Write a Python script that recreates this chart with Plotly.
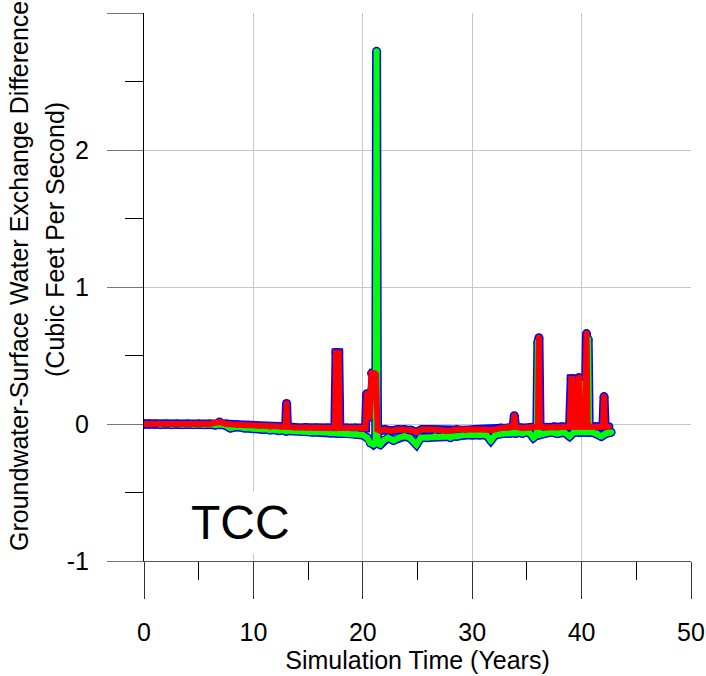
import plotly.graph_objects as go

# simulation time (years) and exchange difference (cfs)
green_t = [0.0, 0.5, 1.5, 2.5, 3.5, 4.5, 5.5, 6.5, 7.3, 7.9, 8.5, 9.2, 10.0, 10.8, 11.5, 12.3,
           13.0, 13.8, 14.6, 15.4, 16.2, 17.0, 17.8, 18.6, 19.4, 20.0, 20.4, 20.7, 21.0, 21.18,
           21.26, 21.34, 21.6, 21.9, 22.3, 22.8, 23.3, 23.8, 24.3, 24.9, 25.3, 25.9, 26.6, 27.3,
           28.0, 28.6, 29.3, 30.0, 30.7, 31.3, 31.7, 32.1, 32.8, 33.4, 34.0, 34.6, 35.2, 35.6,
           35.9, 36.0, 36.1, 36.6, 37.2, 37.8, 38.4, 38.9, 39.3, 39.8, 39.9, 40.0, 40.5, 40.6,
           40.7, 41.0, 41.4, 41.8, 42.2, 42.7]
green_v = [0.0, 0.0, -0.005, -0.005, -0.005, -0.005, -0.005, -0.01, -0.005, -0.03, -0.02, -0.03,
           -0.035, -0.04, -0.045, -0.05, -0.055, -0.05, -0.055, -0.06, -0.06, -0.065, -0.07, -0.07,
           -0.075, -0.08, -0.1, -0.14, -0.15, -0.14, 2.72, -0.14, -0.15, -0.12, -0.1, -0.12, -0.1,
           -0.09, -0.1, -0.15, -0.1, -0.1, -0.09, -0.09, -0.1, -0.09, -0.08, -0.08, -0.08, -0.08,
           -0.12, -0.08, -0.07, -0.07, -0.07, -0.07, -0.06, -0.1, -0.08, 0.6, -0.08, -0.07, -0.06,
           -0.07, -0.06, -0.09, -0.06, -0.06, 0.3, -0.06, -0.06, 0.62, -0.06, -0.06, -0.07, -0.09,
           -0.07, -0.06]

red_t = [0.0, 1.0, 2.0, 3.0, 4.0, 5.0, 6.0, 6.9, 7.5, 8.5, 9.5, 10.5, 11.5, 12.5, 12.95, 13.03,
         13.11, 13.8, 14.8, 15.8, 16.8, 17.45, 17.55, 17.68, 17.8, 17.9, 18.5, 19.3, 20.0, 20.25,
         20.35, 20.5, 20.65, 20.8, 20.95, 21.1, 21.2, 21.35, 21.6, 22.0, 22.6, 23.2, 23.8, 24.4,
         24.9, 25.4, 26.2, 27.0, 27.8, 28.6, 29.4, 30.2, 31.0, 31.8, 32.6, 33.3, 33.75, 33.85,
         33.95, 34.6, 35.3, 36.0, 36.1, 36.2, 36.8, 37.5, 38.2, 38.9, 39.05, 39.15, 39.3, 39.45,
         39.6, 39.75, 39.85, 40.3, 40.45, 40.55, 40.9, 41.3, 41.7, 41.95, 42.05, 42.15, 42.5]
red_v = [0.0, 0.0, 0.0, 0.0, 0.0, 0.0, 0.0, 0.015, 0.0, -0.005, -0.01, -0.015, -0.02, -0.02,
         -0.02, 0.15, -0.02, -0.025, -0.025, -0.03, -0.03, -0.03, 0.52, 0.52, 0.52, -0.03,
         -0.03, -0.03, -0.035, -0.03, 0.22, 0.2, 0.05, 0.37, 0.37, 0.37, 0.36, -0.04, -0.05,
         -0.04, -0.05, -0.04, -0.04, -0.045, -0.06, -0.04, -0.04, -0.045, -0.05, -0.04, -0.045,
         -0.04, -0.04, -0.045, -0.03, -0.03, -0.02, 0.06, -0.02, -0.03, -0.025, -0.02, 0.63,
         -0.02, -0.025, -0.02, -0.02, -0.02, 0.33, 0.33, -0.02, -0.02, -0.02, 0.34, -0.02, -0.02,
         0.66, -0.02, -0.02, -0.02, -0.02, -0.02, 0.2, -0.02, -0.02]

x_ticks = [0, 10, 20, 30, 40, 50]
y_ticks = [-1, 0, 1, 2, 3]
y_labels = ["-1", "0", "1", "2", "3"]

FONT = "Liberation Sans, Arial, sans-serif"
W, H = 706, 676
ML, MR, MT, MB = 144, 15, 13, 115


def line_trace(x, y, color, width):
    # markers at the vertices give the rounded ends of the original pen strokes
    return go.Scatter(x=x, y=y, mode="lines+markers", line=dict(color=color, width=width),
                      marker=dict(color=color, size=width, line=dict(width=0)), hoverinfo="skip")


def px_to_paper(px, py):
    return (px - ML) / (W - ML - MR), (H - MB - py) / (H - MT - MB)


fig = go.Figure()
# blue outlines first, then the coloured lines on top
fig.add_trace(line_trace(green_t, green_v, "#0000ff", 9))
fig.add_trace(line_trace(red_t, red_v, "#0000ff", 9))
fig.add_trace(line_trace(green_t, green_v, "#00ff00", 6))
fig.add_trace(line_trace(red_t, red_v, "#ff0000", 6))

t1x, t1y = px_to_paper(19, 276)
t2x, t2y = px_to_paper(55, 240)

fig.update_layout(
    width=W, height=H,
    margin=dict(l=ML, r=MR, t=MT, b=MB),
    paper_bgcolor="white", plot_bgcolor="white",
    showlegend=False,
    font=dict(family=FONT, size=25, color="black"),
    annotations=[
        dict(x=8.8, y=-0.72, xref="x", yref="y", text="TCC", showarrow=False,
             font=dict(size=48, family=FONT, color="black"), bgcolor="white", borderpad=4),
        dict(x=t1x, y=t1y, xref="paper", yref="paper", text="Groundwater-Surface Water Exchange Difference",
             showarrow=False, textangle=-90, xanchor="center", yanchor="middle", font=dict(size=25, family=FONT)),
        dict(x=t2x, y=t2y, xref="paper", yref="paper", text="(Cubic Feet Per Second)",
             showarrow=False, textangle=-90, xanchor="center", yanchor="middle", font=dict(size=25, family=FONT)),
    ],
)

fig.update_xaxes(
    range=[0, 50], tickvals=x_ticks, ticks="outside", ticklen=37, tickcolor="#333333",
    minor=dict(dtick=5, ticks="outside", ticklen=18, tickcolor="black", showgrid=False),
    showgrid=True, gridcolor="#c8c8c8", gridwidth=1,
    showline=True, linecolor="#555555", linewidth=1, zeroline=False,
    title=dict(text="Simulation Time (Years)", font=dict(size=25), standoff=2),
    ticklabelstandoff=12, automargin=False,
)
fig.update_yaxes(
    range=[-1, 3], tickvals=y_ticks, ticktext=y_labels, ticks="outside", ticklen=36, tickcolor="#777777",
    minor=dict(dtick=0.5, ticks="outside", ticklen=18, tickcolor="black", showgrid=False),
    showgrid=True, gridcolor="#c8c8c8", gridwidth=1,
    showline=True, linecolor="black", linewidth=1, zeroline=False,
    ticklabelstandoff=13, automargin=False,
)

# the page body has an 8px default margin; drop it so the figure sits at the window's corner
fig.write_html("out.html", config={"displayModeBar": False},
               post_script="document.body.style.margin='0px';")
